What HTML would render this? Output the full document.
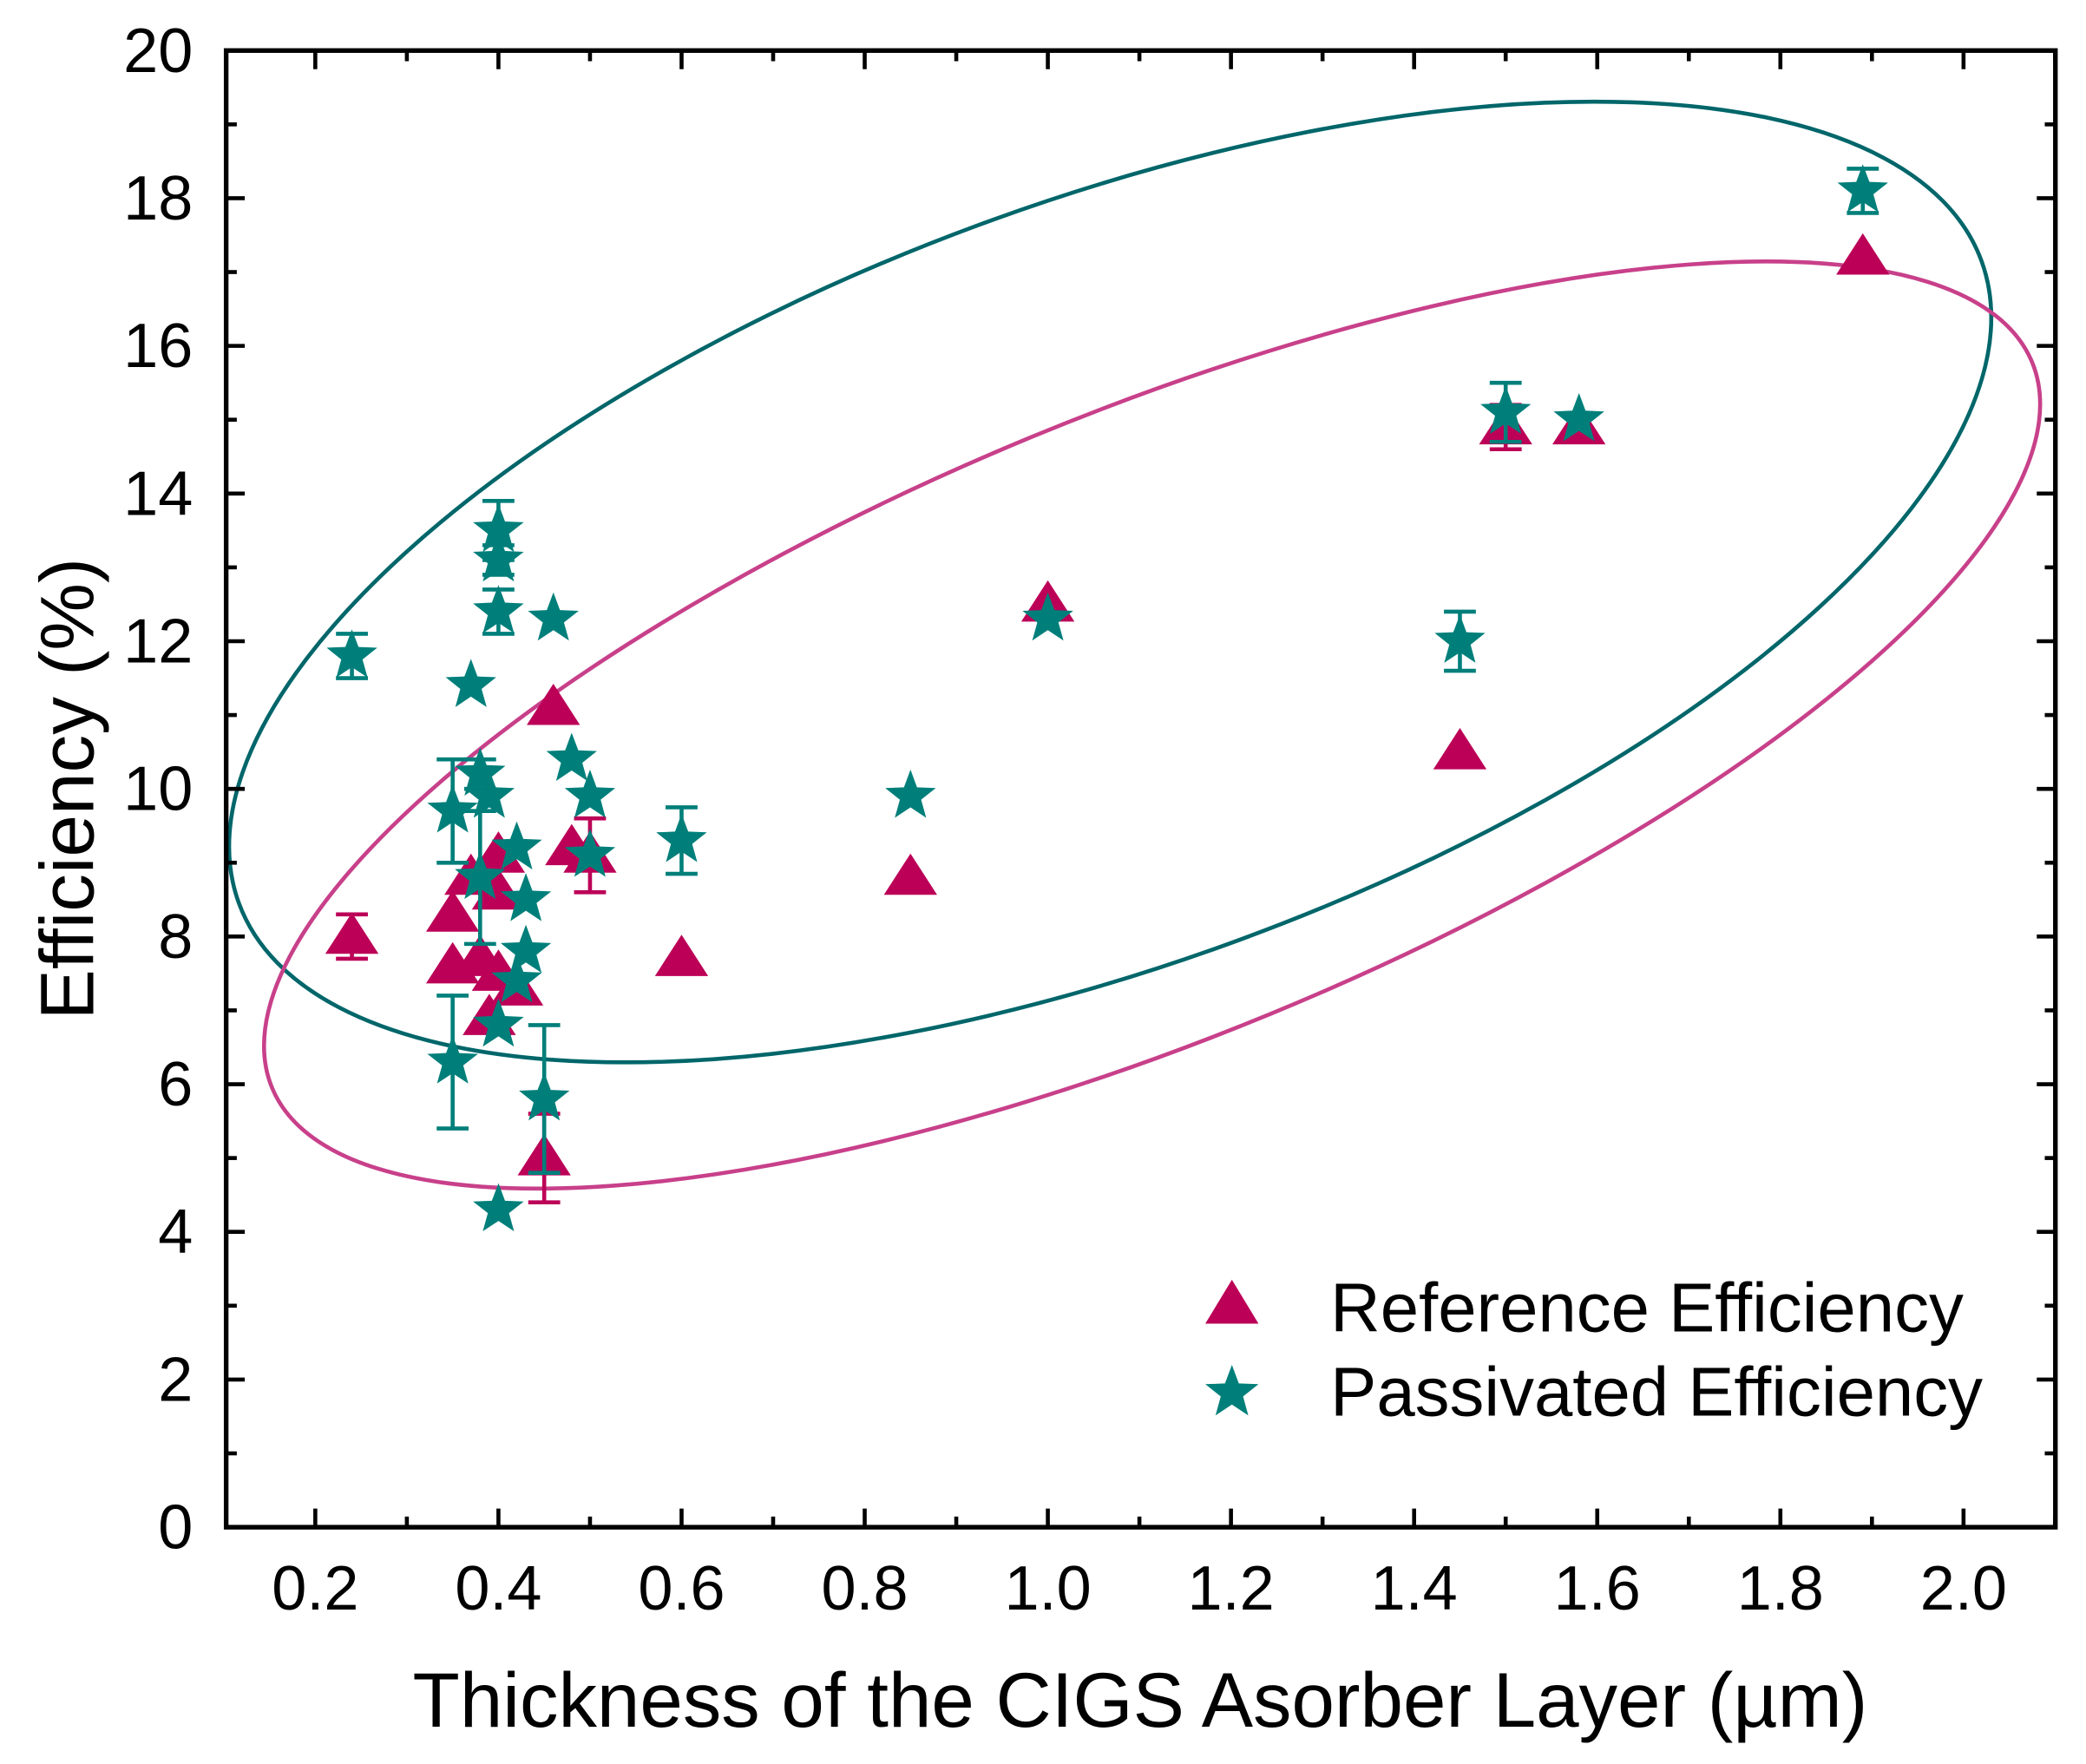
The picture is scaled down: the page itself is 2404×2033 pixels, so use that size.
<!DOCTYPE html>
<html><head><meta charset="utf-8"><style>html,body{margin:0;padding:0;background:#fff}svg{display:block}</style></head>
<body>
<svg id="chart" width="2404" height="2033" viewBox="0 0 1568 1326" preserveAspectRatio="none" xmlns="http://www.w3.org/2000/svg" font-family="Liberation Sans, Arial, sans-serif">
<g id="ellipses"></g>
<g id="axes"></g>
<g id="marks"></g>
<g id="legend">
  <polygon points="926,962 946,995 906,995" fill="#BC0057"/>
  <text x="1000" y="1001" font-size="52" fill="#000">Reference Efficiency</text>
  <g id="legstar"></g>
  <text x="1000" y="1064" font-size="52" fill="#000">Passivated Efficiency</text>
</g>
<text x="857" y="1298" font-size="58" text-anchor="middle">Thickness of the CIGS Asorber Layer (µm)</text>
<text transform="translate(70,593) rotate(-90)" font-size="57" text-anchor="middle">Efficiency (%)</text>
</svg>
<script>
const refX = [0.24,0.35,0.35,0.37,0.38,0.39,0.40,0.40,0.40,0.42,0.46,0.48,0.50,0.45,0.60,0.85,1.00,1.45,1.50,1.58,1.89];
const refY = [8.0,8.3,7.6,8.8,7.7,6.9,9.1,8.6,7.5,7.3,11.1,9.2,9.1,5.0,7.7,8.8,12.5,10.5,14.9,14.9,17.2];
const refErr = [0.3,0,0,0,0,0,0,0,0,0,0,0,0.5,0.6,0,0,0,0,0.3,0,0];
const pasX = [0.24,0.35,0.35,0.37,0.38,0.39,0.38,0.40,0.40,0.40,0.40,0.40,0.42,0.43,0.43,0.42,0.46,0.48,0.50,0.50,0.45,0.60,0.85,1.00,1.45,1.50,1.58,1.89];
const pasY = [11.8,9.7,6.3,11.4,10.2,9.9,8.8,13.5,13.1,12.4,6.8,4.3,9.2,8.5,7.8,7.4,12.3,10.4,9.9,9.1,5.8,9.3,9.9,12.3,12.0,15.1,15.0,18.1];
const pasErr = [0.3,0.7,0.9,0,0.2,0,0.9,0.4,0.2,0.3,0,0,0,0,0,0,0,0,0,0,1.0,0.45,0,0,0.4,0.4,0,0.3];
const xTicks = ["0.2","0.4","0.6","0.8","1.0","1.2","1.4","1.6","1.8","2.0"];
const yTicks = ["0","2","4","6","8","10","12","14","16","18","20"];

const NS="http://www.w3.org/2000/svg";
const L=170,R=1545,T=38,B=1148;
const sx=v=>237+(v-0.2)*688.3;
const sy=v=>B-v*55.5;
function mk(tag,attrs,parent){const e=document.createElementNS(NS,tag);for(const k in attrs)e.setAttribute(k,attrs[k]);parent.appendChild(e);return e;}
const axes=document.getElementById('axes'), marks=document.getElementById('marks'), ell=document.getElementById('ellipses');

let e1=mk('ellipse',{cx:834.5,cy:437.5,rx:698,ry:286,transform:'rotate(-20.25 834.5 437.5)',fill:'none',stroke:'#00666A','stroke-width':3},ell);


let e2=mk('ellipse',{cx:866,cy:545,rx:715.5,ry:234.7,transform:'rotate(-22.4 866 545)',fill:'none',stroke:'#C8408A','stroke-width':3},ell);



let fr=mk('rect',{x:L,y:T,width:R-L,height:B-T,fill:'none',stroke:'#000','stroke-width':3.5},axes);


for(let i=0;i<=19;i++){const v=0.2+i*0.1; if(v>2.1)break; const x=sx(v); const len=i%2===0?14:8;
  mk('line',{x1:x,y1:B,x2:x,y2:B-len,stroke:'#000','stroke-width':3},axes);
  mk('line',{x1:x,y1:T,x2:x,y2:T+len,stroke:'#000','stroke-width':3},axes);}
xTicks.forEach(t=>{const tx=mk('text',{x:sx(parseFloat(t)),y:1210,'font-size':47,'text-anchor':'middle'},axes);tx.textContent=t;
  
  });
for(let v=1;v<20;v++){const y=sy(v);const len=v%2===0?14:8;
  mk('line',{x1:L,y1:y,x2:L+len,y2:y,stroke:'#000','stroke-width':3},axes);
  mk('line',{x1:R,y1:y,x2:R-len,y2:y,stroke:'#000','stroke-width':3},axes);}
yTicks.forEach(t=>{const ty=mk('text',{x:145,y:sy(parseFloat(t))+16,'font-size':47,'text-anchor':'end'},axes);ty.textContent=t;
  
  });

function star(cx,cy,r,fill,parent){let p=[];for(let i=0;i<10;i++){const a=-Math.PI/2+i*Math.PI/5;const rr=i%2?r*0.42:r;p.push((cx+rr*Math.cos(a)).toFixed(1)+','+(cy+rr*Math.sin(a)).toFixed(1));}
  return mk('polygon',{points:p.join(' '),fill:fill},parent);}
function errbar(x,y,e,col){if(!e)return;const y1=sy(y-e),y2=sy(y+e);
  const g=mk('path',{d:`M${x},${y1}V${y2}M${x-12},${y1}H${x+12}M${x-12},${y2}H${x+12}`,stroke:col,'stroke-width':3,fill:'none'},marks);
  
  }
const PINK='#BC0057', TEAL='#007F7A';
refX.forEach((v,i)=>{const x=sx(v),y=sy(refY[i]);errbar(x,refY[i],refErr[i],PINK);
  const t=mk('polygon',{points:`${x},${y-18} ${x+20},${y+13} ${x-20},${y+13}`,fill:PINK},marks);
  
  });
pasX.forEach((v,i)=>{const x=sx(v),y=sy(pasY[i]);errbar(x,pasY[i],pasErr[i],TEAL);
  const s=star(x,y,20,TEAL,marks);
  
  });
star(926,1047,21,TEAL,document.getElementById('legstar'));
</script>
</body></html>
